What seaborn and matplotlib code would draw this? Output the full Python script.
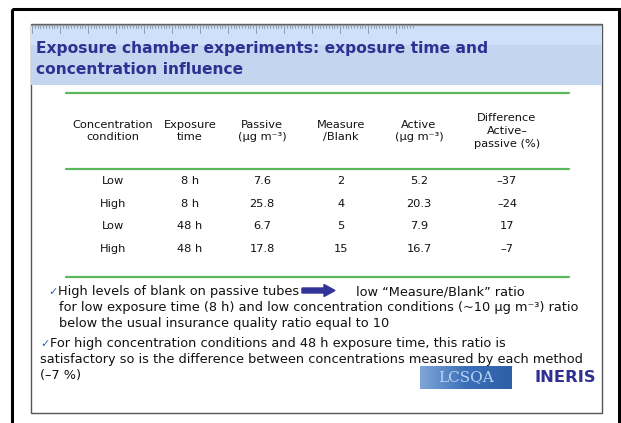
import matplotlib
matplotlib.use("Agg")
import matplotlib.pyplot as plt
import seaborn as sns
import numpy as np
from matplotlib.patches import Rectangle, FancyArrow

# ---------------- data ----------------
title_lines = ["Exposure chamber experiments: exposure time and",
               "concentration influence"]
headers = ["Concentration\ncondition", "Exposure\ntime", "Passive\n(µg m⁻³)",
           "Measure\n/Blank", "Active\n(µg m⁻³)", "Difference\nActive–\npassive (%)"]
concentration = ["Low", "High", "Low", "High"]
exposure_time = ["8 h", "8 h", "48 h", "48 h"]
passive = ["7.6", "25.8", "6.7", "17.8"]
measure_blank = ["2", "4", "5", "15"]
active = ["5.2", "20.3", "7.9", "16.7"]
difference = ["–37", "–24", "17", "–7"]
bullet1 = ["High levels of blank on passive tubes",
           "low “Measure/Blank” ratio",
           "for low exposure time (8 h) and low concentration conditions (~10 µg m⁻³) ratio",
           "below the usual insurance quality ratio equal to 10"]
bullet2 = ["For high concentration conditions and 48 h exposure time, this ratio is",
           "satisfactory so is the difference between concentrations measured by each method",
           "(–7 %)"]

sns.set_theme(style="white")
plt.rcParams['font.family'] = ['DejaVu Sans']

W, H = 621, 423
fig = plt.figure(figsize=(W / 100, H / 100), dpi=100)
bg = fig.add_axes([0, 0, 1, 1])
bg.set_xlim(0, W)
bg.set_ylim(H, 0)
bg.axis("off")

# outer frame
bg.add_patch(Rectangle((12, 9), 607, 420, fill=False, lw=2.2, ec="black"))
# slide
bg.add_patch(Rectangle((30.5, 24.5), 571, 388.5, fill=True, fc="white", lw=1.0, ec="#555555"))
# title band
bg.add_patch(Rectangle((31, 25), 570, 20, fc="#cfe0fb", ec="none"))
bg.add_patch(Rectangle((31, 45), 570, 40, fc="#c4d5f0", ec="none"))
bg.plot([31, 601], [25, 25], color="#999999", lw=1)
# ruler ticks
for i, x in enumerate(np.arange(32, 414, 2.8)):
    major = (i % 10 == 0)
    bg.plot([x, x], [25, 33 if major else 28.5], color="#8f9bb0", lw=0.7)

tcol = "#2e3192"
bg.text(36, 48, title_lines[0], fontsize=11.2, fontweight="bold", color=tcol, va="center", ha="left")
bg.text(36, 70, title_lines[1], fontsize=11.2, fontweight="bold", color=tcol, va="center", ha="left")

# ---------------- table ----------------
cols = [concentration, exposure_time, passive, measure_blank, active, difference]
col_x = [113, 190, 262, 341, 419, 507]   # layout: column centres (px)
green = "#5cb85c"
for yl in [93, 169, 277]:
    bg.plot([66, 569], [yl, yl], color=green, lw=1.6)

fs_t = 8.2
for cx, h in zip(col_x, headers):
    bg.text(cx, 131, h, fontsize=fs_t, ha="center", va="center", color="#111111", linespacing=1.35)

tab = fig.add_axes([0, 0, 1, 1], facecolor="none")
tab.set_xlim(0, W)
row_top, row_step = 181, 22.6
tab.set_ylim(H, 0)
tab.axis("off")
for c, (cx, vals) in enumerate(zip(col_x, cols)):
    for r, v in enumerate(vals):
        tab.text(cx, row_top + r * row_step, v, fontsize=fs_t, ha="center", va="center", color="#111111")

# ---------------- bullets ----------------
fs_b = 9.3
chk = "#3366aa"
bg.text(48, 292, "✓", fontsize=8, color=chk, va="center")
bg.text(58, 292, bullet1[0], fontsize=fs_b, va="center", color="#111111")
bg.add_patch(FancyArrow(302, 290.5, 22, 0, width=5, head_width=12, head_length=11,
                        length_includes_head=False, fc="#33339a", ec="#33339a"))
bg.text(356, 292, bullet1[1], fontsize=fs_b, va="center", color="#111111")
bg.text(59, 307.5, bullet1[2], fontsize=fs_b, va="center", color="#111111")
bg.text(59, 323, bullet1[3], fontsize=fs_b, va="center", color="#111111")

bg.text(40, 344, "✓", fontsize=8, color=chk, va="center")
bg.text(50, 344, bullet2[0], fontsize=fs_b, va="center", color="#111111")
bg.text(40, 360, bullet2[1], fontsize=fs_b, va="center", color="#111111")
bg.text(40, 376, bullet2[2], fontsize=fs_b, va="center", color="#111111")

# logos
grad = np.linspace(0, 1, 100).reshape(1, -1)
bg.imshow(grad, extent=[420, 512, 389, 366],
          cmap=sns.blend_palette(["#7ea6d8", "#3b6fb8", "#2f5fa6"], as_cmap=True),
          aspect="auto", zorder=2)
bg.text(466, 377.5, "LCSQA", fontsize=11, family="DejaVu Serif", color="#b9d3f2",
        ha="center", va="center", zorder=3)
bg.set_xlim(0, W); bg.set_ylim(H, 0)
bg.text(565.5, 378, "INERIS", fontsize=11.8, fontweight="bold", color="#2e3192", ha="center", va="center")

fig.savefig("out.png", dpi=100)
